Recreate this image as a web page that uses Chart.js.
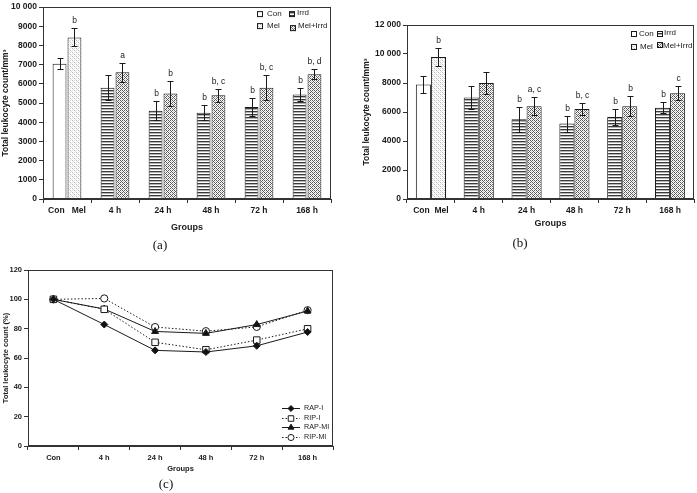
<!DOCTYPE html>
<html><head><meta charset="utf-8">
<script src="https://cdn.jsdelivr.net/npm/chart.js@4/dist/chart.umd.min.js"></script>
<style>
html,body{margin:0;padding:0;background:#fff;}
body{width:697px;height:493px;position:relative;overflow:hidden;}
canvas{position:absolute;}
.cap{position:absolute;font-family:"Liberation Serif","Times New Roman",serif;font-size:13px;color:#111;transform:translate(-50%,-50%);}
</style></head><body>
<canvas id="ca" width="340" height="240" style="left:0;top:0"></canvas>
<canvas id="cb" width="347" height="240" style="left:350px;top:0"></canvas>
<canvas id="cc" width="345" height="238" style="left:0;top:255px"></canvas>
<div class="cap" style="left:160px;top:245px">(a)</div>
<div class="cap" style="left:520px;top:243px">(b)</div>
<div class="cap" style="left:166px;top:484px">(c)</div>
<script>
// ---------- Panel (a) data ----------
const groupsA = ['Con   Mel', '4 h', '24 h', '48 h', '72 h', '168 h'];
const conA = [7050, null, null, null, null, null];
const conErrA = [290, null, null, null, null, null];
const melA = [8420, null, null, null, null, null];
const melErrA = [470, null, null, null, null, null];
const irrdA = [null, 5800, 4600, 4500, 4800, 5450];
const irrdErrA = [null, 640, 500, 400, 480, 350];
const melIrrdA = [null, 6600, 5500, 5400, 5800, 6500];
const melIrrdErrA = [null, 480, 650, 320, 650, 260];
const conSigA = ['', '', '', '', '', ''];
const melSigA = ['b', '', '', '', '', ''];
const irrdSigA = ['', '', 'b', 'b', 'b', 'b'];
const melIrrdSigA = ['', 'a', 'b', 'b, c', 'b, c', 'b, d'];
const yTickLabelsA = ['0', '1000', '2000', '3000', '4000', '5000', '6000', '7000', '8000', '9000', '10 000'];

// ---------- Panel (b) data ----------
const groupsB = ['Con  Mel', '4 h', '24 h', '48 h', '72 h', '168 h'];
const conB = [7900, null, null, null, null, null];
const conErrB = [560, null, null, null, null, null];
const melB = [9800, null, null, null, null, null];
const melErrB = [620, null, null, null, null, null];
const irrdB = [null, 7000, 5500, 5200, 5650, 6300];
const irrdErrB = [null, 800, 850, 550, 580, 400];
const melIrrdB = [null, 8000, 6400, 6200, 6400, 7300];
const melIrrdErrB = [null, 780, 640, 390, 700, 480];
const conSigB = ['', '', '', '', '', ''];
const melSigB = ['b', '', '', '', '', ''];
const irrdSigB = ['', '', 'b', 'b', 'b', 'b'];
const melIrrdSigB = ['', '', 'a, c', 'b, c', 'b', 'c'];
const yTickLabelsB = ['0', '2000', '4000', '6000', '8000', '10 000', '12 000'];

// ---------- Panel (c) data ----------
const groupsC = ['Con', '4 h', '24 h', '48 h', '72 h', '168 h'];
const rapI = [100, 82.8, 65.2, 64.1, 68.3, 77.7];
const ripI = [100, 93.2, 70.7, 65.6, 72.2, 79.9];
const rapMI = [100, 93.4, 78.1, 76.8, 82.8, 92.0];
const ripMI = [100, 100.6, 81.1, 78.3, 81.2, 92.6];
const seriesNamesC = ['RAP-I', 'RIP-I', 'RAP-MI', 'RIP-MI'];

// ---------- fills ----------
function makePattern(draw, w, h) {
  const c = document.createElement('canvas'); c.width = w; c.height = h;
  const x = c.getContext('2d'); x.fillStyle = '#fff'; x.fillRect(0, 0, w, h); draw(x);
  return x.createPattern(c, 'repeat');
}
const fillCon = '#ffffff';
const fillMel = makePattern(x => {
  x.fillStyle = '#b8b8b8'; x.fillRect(0, 0, 1, 1); x.fillRect(2, 2, 1, 1);
  x.fillStyle = '#dcdcdc'; x.fillRect(2, 0, 1, 1); x.fillRect(0, 2, 1, 1); x.fillRect(1, 1, 1, 1); x.fillRect(3, 3, 1, 1);
}, 4, 4);
const fillIrrd = makePattern(x => {
  x.fillStyle = '#3a3a3a'; x.fillRect(0, 0, 4, 1);
  x.fillStyle = '#b5b5b5'; x.fillRect(0, 1, 4, 1);
}, 4, 3);
const fillMelIrrd = makePattern(x => {
  x.fillStyle = '#5a5a5a'; x.fillRect(0, 0, 1, 1); x.fillRect(1, 1, 1, 1); x.fillRect(2, 2, 1, 1); x.fillRect(3, 3, 1, 1);
  x.fillRect(2, 0, 1, 1); x.fillRect(0, 2, 1, 1);
  x.fillStyle = '#c8c8c8'; x.fillRect(1, 3, 1, 1); x.fillRect(3, 1, 1, 1);
}, 4, 4);

const FONT = 'Liberation Sans, Arial, sans-serif';
const INK = '#1a1a1a';

function barExtras(cfg) {
  return {
    id: 'barExtras',
    afterDatasetsDraw(chart) {
      const { ctx, chartArea: a, scales: { y } } = chart;
      ctx.save();
      ctx.strokeStyle = '#333'; ctx.lineWidth = 1;
      ctx.strokeRect(Math.round(a.left) + 0.5, Math.round(a.top) + 0.5, Math.round(a.right - a.left) - 1, Math.round(a.bottom - a.top) - 1);
      ctx.strokeStyle = INK; ctx.fillStyle = INK;
      ctx.font = '8.5px ' + FONT; ctx.textAlign = 'center'; ctx.textBaseline = 'middle';
      cfg.series.forEach((s, di) => {
        const meta = chart.getDatasetMeta(di);
        s.values.forEach((v, i) => {
          if (v == null) return;
          const x = Math.round(meta.data[i].x) + 0.5;
          const e = s.err[i];
          const yt = Math.round(y.getPixelForValue(v + e)) + 0.5;
          const yb = Math.round(y.getPixelForValue(v - e)) + 0.5;
          ctx.beginPath();
          ctx.moveTo(x, yt); ctx.lineTo(x, yb);
          ctx.moveTo(x - 3, yt); ctx.lineTo(x + 3, yt);
          ctx.moveTo(x - 3, yb); ctx.lineTo(x + 3, yb);
          ctx.stroke();
          if (s.sig[i]) ctx.fillText(s.sig[i], x, yt - 8);
        });
      });
      // legend
      ctx.font = '8px ' + FONT; ctx.textAlign = 'left';
      cfg.legend.forEach((L, k) => {
        const bx = a.right + L.bx, by = a.top + L.by;
        ctx.fillStyle = cfg.series[L.s].fill;
        ctx.fillRect(bx, by, L.size, L.size);
        ctx.strokeStyle = INK;
        ctx.strokeRect(bx + 0.5, by + 0.5, L.size - 1, L.size - 1);
        ctx.fillStyle = INK;
        ctx.fillText(cfg.series[L.s].name, a.right + L.tx, a.top + L.ty);
      });
      ctx.restore();
    }
  };
}

function barChart(id, cfg) {
  const ds = cfg.series.map(s => ({
    label: s.name, data: s.values, stack: s.stack,
    backgroundColor: s.fill, borderColor: INK, borderWidth: 1,
    categoryPercentage: cfg.catPct, barPercentage: cfg.barPct
  }));
  return new Chart(document.getElementById(id), {
    type: 'bar',
    data: { labels: cfg.labels, datasets: ds },
    options: {
      responsive: false, animation: false,
      layout: { padding: cfg.padding },
      plugins: { legend: { display: false }, tooltip: { enabled: false } },
      scales: {
        x: {
          offset: true,
          grid: { display: true, drawOnChartArea: false, offset: true, tickLength: 4, color: '#333' },
          border: { color: '#333' },
          ticks: { color: INK, font: { family: FONT, size: 8.5, weight: 'bold' }, padding: 3, maxRotation: 0, autoSkip: false },
          title: { display: true, text: 'Groups', color: INK, font: { family: FONT, size: 9, weight: 'bold' }, padding: { top: 4, bottom: 4 } },
          afterFit: sc => { sc.height = cfg.xHeight; }
        },
        y: {
          stacked: false, min: 0, max: cfg.yMax,
          grid: { display: true, drawOnChartArea: false, tickLength: 4, color: '#333' },
          border: { color: '#333' },
          ticks: { stepSize: cfg.yStep, color: INK, font: { family: FONT, size: 8.5, weight: 'bold' }, padding: 2,
                   callback: (v, i) => cfg.yLabels[i] },
          title: { display: true, text: 'Total leukocyte count/mm³', color: INK, font: { family: FONT, size: 8.5, weight: 'bold' }, padding: { top: 1, bottom: 0 } },
          afterFit: sc => { sc.width = cfg.yWidth; }
        }
      }
    },
    plugins: [barExtras(cfg)]
  });
}

barChart('ca', {
  labels: groupsA, yMax: 10000, yStep: 1000, yLabels: yTickLabelsA,
  catPct: 0.62, barPct: 0.93, yWidth: 43, xHeight: 38,
  padding: { left: 0, top: 5, right: 9, bottom: 3 },
  series: [
    { name: 'Con', values: conA, err: conErrA, sig: conSigA, stack: 'L', fill: fillCon },
    { name: 'Irrd', values: irrdA, err: irrdErrA, sig: irrdSigA, stack: 'L', fill: fillIrrd },
    { name: 'Mel', values: melA, err: melErrA, sig: melSigA, stack: 'R', fill: fillMel },
    { name: 'Mel+Irrd', values: melIrrdA, err: melIrrdErrA, sig: melIrrdSigA, stack: 'R', fill: fillMelIrrd }
  ],
  legend: [
    { s: 0, bx: -74, by: 4, size: 6, tx: -64, ty: 7 },
    { s: 1, bx: -42, by: 4, size: 6, tx: -34, ty: 6 },
    { s: 2, bx: -74, by: 16, size: 6, tx: -64, ty: 19 },
    { s: 3, bx: -41, by: 18, size: 6, tx: -33, ty: 19 }
  ]
});

barChart('cb', {
  labels: groupsB, yMax: 12000, yStep: 2000, yLabels: yTickLabelsB,
  catPct: 0.63, barPct: 1.0, yWidth: 46, xHeight: 34,
  padding: { left: 11, top: 25, right: 3, bottom: 7 },
  series: [
    { name: 'Con', values: conB, err: conErrB, sig: conSigB, stack: 'L', fill: fillCon },
    { name: 'Irrd', values: irrdB, err: irrdErrB, sig: irrdSigB, stack: 'L', fill: fillIrrd },
    { name: 'Mel', values: melB, err: melErrB, sig: melSigB, stack: 'R', fill: fillMel },
    { name: 'Mel+Irrd', values: melIrrdB, err: melIrrdErrB, sig: melIrrdSigB, stack: 'R', fill: fillMelIrrd }
  ],
  legend: [
    { s: 0, bx: -63, by: 6, size: 6, tx: -55, ty: 8.5 },
    { s: 1, bx: -37, by: 6, size: 6, tx: -30, ty: 8 },
    { s: 2, bx: -63, by: 19, size: 6, tx: -54, ty: 22 },
    { s: 3, bx: -37, by: 17, size: 6, tx: -31, ty: 21 }
  ]
});

// ---------- Panel (c) ----------
const lineStyles = [
  { data: rapI, dash: [], point: 'rectRot', r: 3.5, fill: '#111' },
  { data: ripI, dash: [1.5, 2], point: 'rect', r: 4.6, fill: '#fff' },
  { data: rapMI, dash: [], point: 'triangle', r: 4, fill: '#111' },
  { data: ripMI, dash: [1.5, 2], point: 'circle', r: 3.6, fill: '#fff' }
];
function drawMarker(ctx, st, x, y) {
  Chart.helpers.drawPoint(ctx, { pointStyle: st.point, radius: st.r, borderWidth: 1, rotation: 0 }, x, y);
}
const lineExtras = {
  id: 'lineExtras',
  afterDatasetsDraw(chart) {
    const { ctx, chartArea: a } = chart;
    ctx.save();
    ctx.strokeStyle = '#333'; ctx.lineWidth = 1;
    ctx.strokeRect(Math.round(a.left) + 0.5, Math.round(a.top) + 0.5, Math.round(a.right - a.left) - 1, Math.round(a.bottom - a.top) - 1);
    ctx.font = '7.2px ' + FONT; ctx.textBaseline = 'middle'; ctx.textAlign = 'left';
    lineStyles.forEach((st, k) => {
      const y = 153 + k * 9.7;
      ctx.strokeStyle = INK; ctx.lineWidth = 1;
      ctx.setLineDash(st.dash);
      ctx.beginPath(); ctx.moveTo(282, Math.round(y) + 0.5); ctx.lineTo(300, Math.round(y) + 0.5); ctx.stroke();
      ctx.setLineDash([]);
      ctx.fillStyle = st.fill;
      drawMarker(ctx, { point: st.point, r: st.r * 0.85 }, 291, Math.round(y) + 0.5);
      ctx.fillStyle = INK;
      ctx.fillText(seriesNamesC[k], 304, y);
    });
    ctx.restore();
  }
};
new Chart(document.getElementById('cc'), {
  type: 'line',
  data: {
    labels: groupsC,
    datasets: lineStyles.map((st, k) => ({
      label: seriesNamesC[k], data: st.data,
      borderColor: INK, borderWidth: 1, borderDash: st.dash,
      pointStyle: st.point, pointRadius: st.r, pointBackgroundColor: st.fill,
      pointBorderColor: INK, pointBorderWidth: 1, tension: 0, fill: false
    }))
  },
  options: {
    responsive: false, animation: false,
    layout: { padding: { left: 0, top: 15, right: 12, bottom: 16 } },
    plugins: { legend: { display: false }, tooltip: { enabled: false } },
    scales: {
      x: {
        offset: true,
        grid: { display: true, drawOnChartArea: false, offset: true, tickLength: 4, color: '#333' },
        border: { color: '#333' },
        ticks: { color: INK, font: { family: FONT, size: 7.5, weight: 'bold' }, padding: 3, maxRotation: 0, autoSkip: false },
        title: { display: true, text: 'Groups', color: INK, font: { family: FONT, size: 7.5, weight: 'bold' }, padding: { top: 3, bottom: 4 } },
        afterFit: sc => { sc.height = 31; }
      },
      y: {
        min: 0, max: 120,
        grid: { display: true, drawOnChartArea: false, tickLength: 4, color: '#333' },
        border: { color: '#333' },
        ticks: { stepSize: 20, color: INK, font: { family: FONT, size: 7.5, weight: 'bold' }, padding: 2 },
        title: { display: true, text: 'Total leukocyte count (%)', color: INK, font: { family: FONT, size: 7.5, weight: 'bold' }, padding: { top: 1, bottom: 0 } },
        afterFit: sc => { sc.width = 28; }
      }
    }
  },
  plugins: [lineExtras]
});
</script>
</body></html>
